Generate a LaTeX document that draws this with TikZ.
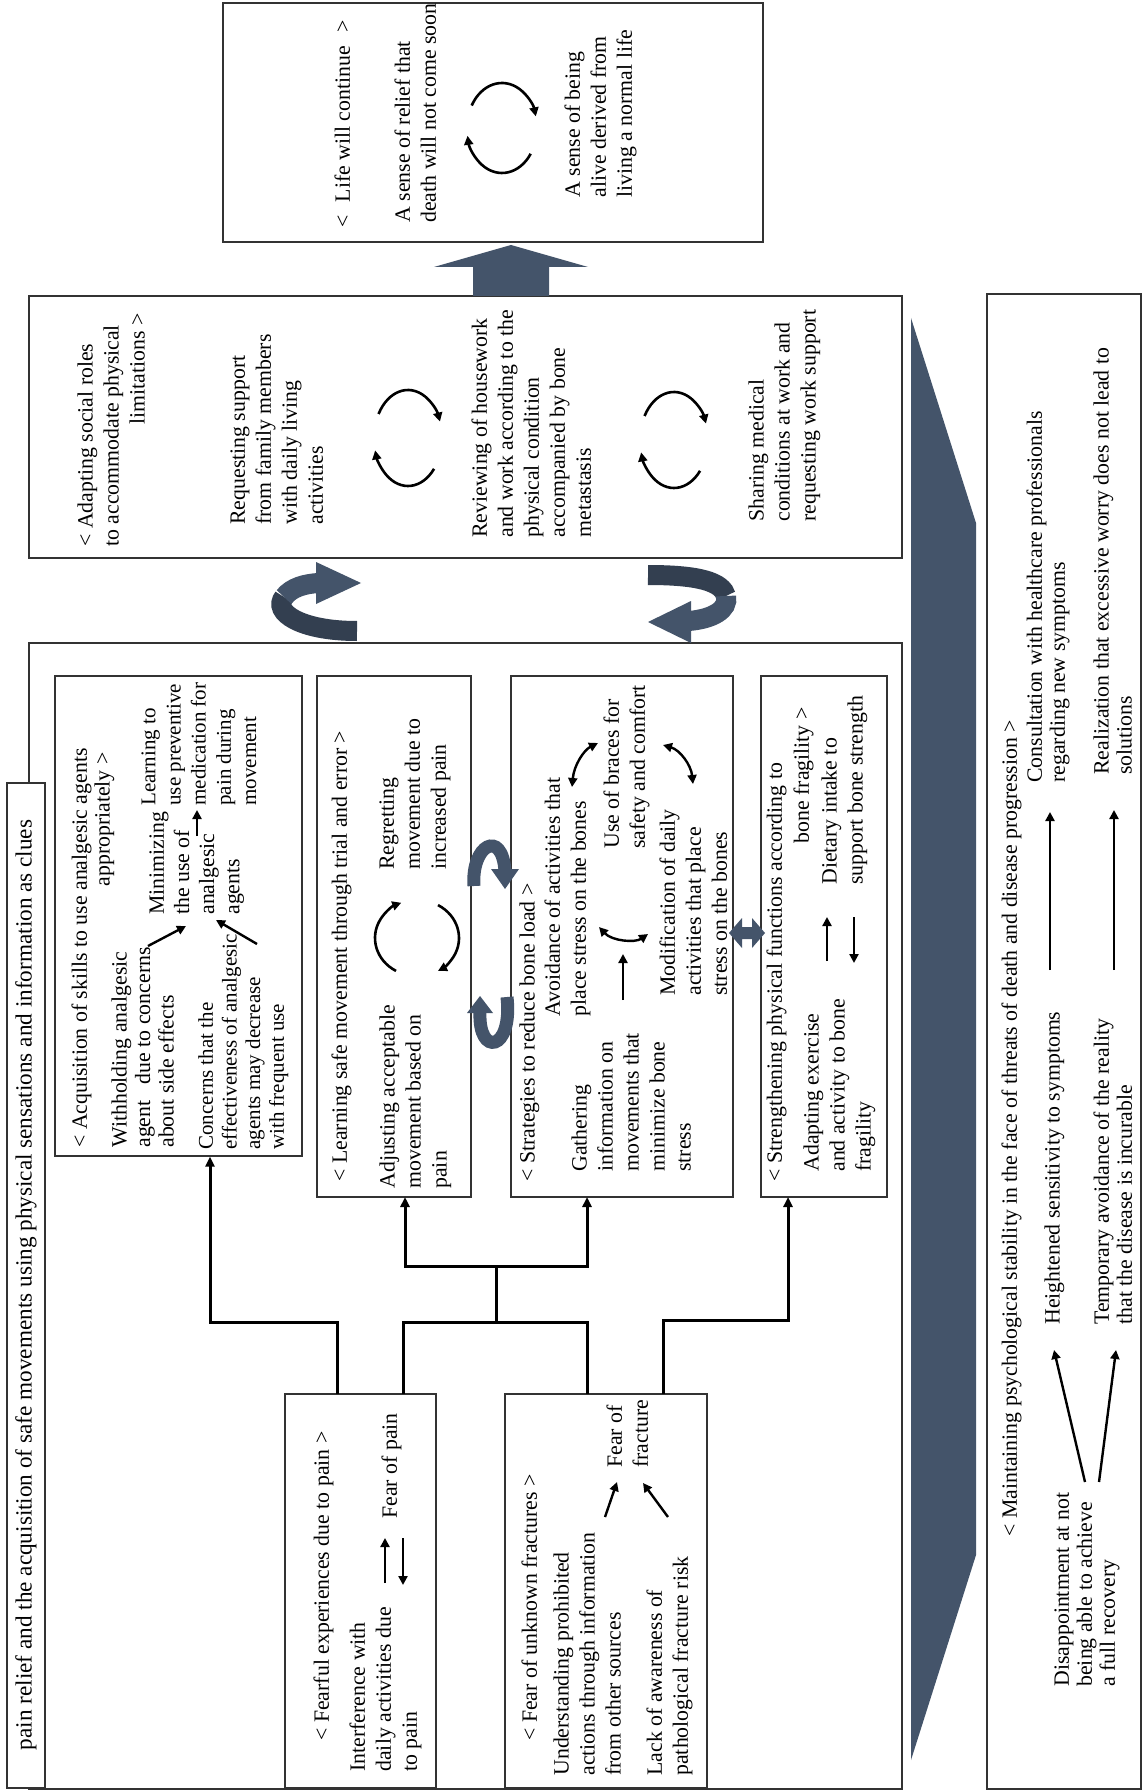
\documentclass[tikz,border=0pt]{standalone}
\usepackage{fontspec}
\setmainfont{Liberation Serif}
\usetikzlibrary{arrows.meta,fit}
\definecolor{slate}{HTML}{44546A}
\definecolor{slated}{HTML}{333F50}
\newcommand\fn{\fontsize{10.9}{13}\selectfont}
\newcommand\fsm{\fontsize{10.9}{11.8}\selectfont}
\newcommand\fps{\fontsize{10.9}{11.5}\selectfont}
\begin{document}
\begin{tikzpicture}[x=0.5pt,y=-0.5pt,
 box/.style={draw=black!80, line width=0.6pt, inner sep=0pt},
 tx/.style={rotate=90, anchor=north west, inner sep=0pt, align=left, font=\fn},
 txe/.style={rotate=90, anchor=north east, inner sep=0pt, align=left, font=\fn},
 conn/.style={line width=1.5pt, -{Triangle[length=5pt,width=4.5pt]}},
 cline/.style={line width=1.5pt},
 sarr/.style={line width=1.2pt, -{Triangle[length=4.5pt,width=4.5pt]}},
 darr/.style={line width=1.2pt, {Triangle[length=4.5pt,width=4.5pt]}-{Triangle[length=4.5pt,width=4.5pt]}},
 cyc/.style={line width=1.3pt, -{Triangle[length=4.5pt,width=4.5pt]}},
]
\useasboundingbox (0,0) rectangle (1143,1791);
\fill[white] (0,0) rectangle (1143,1791);

% ---------------- boxes
\node[box, fit={(223,3)(763,242)}] (topb) {};
\node[box, fit={(29,296)(902,558)}] (midb) {};
\node[box, fit={(987,294)(1141,1789)}] (psyb) {};
\node[box, fit={(29,643)(902,1789)}] (leftb) {};
\node[box, fill=white, fit={(7,783)(45,1788)}] (ttlb) {};
\node[box, fit={(55,676)(302,1156)}] (acq) {};
\node[box, fit={(317,676)(471,1197)}] (learn) {};
\node[box, fit={(511,676)(733,1197)}] (strat) {};
\node[box, fit={(761,676)(887,1197)}] (stren) {};
\node[box, fit={(285,1394)(436,1788)}] (fear) {};
\node[box, fit={(505,1394)(707,1788)}] (frac) {};

% ---------------- blue shapes
\fill[slate] (911,318) -- (976,523) -- (976,1555) -- (911,1760) -- cycle;
\fill[slate] (473,296) -- (473,267) -- (434,267) -- (511,245) -- (588,267) -- (549,267) -- (549,296) -- cycle;
% ribbon left (middle -> left box)
\draw[slated, line width=10pt] (357,631) .. controls (300,631) and (272,612) .. (284,597);
\draw[slate, line width=10pt] (284,597) .. controls (292,587) and (305,584) .. (318,583);
\fill[slate] (316,562) -- (361,583) -- (316,604) -- cycle;
% ribbon right (middle -> left box)
\draw[slated, line width=10pt] (648,575) .. controls (700,575) and (722,582) .. (726,596);
\draw[slate, line width=10pt] (726,596) .. controls (729,610) and (712,619) .. (689,621);
\fill[slate] (691,601) -- (648,622) -- (691,643) -- cycle;
% ribbons between learning and strategies
\draw[slate, line width=6.5pt] (474,886) .. controls (471,845) and (502,828) .. (505,871);
\fill[slate] (491,869) -- (519,869) -- (505,889) -- cycle;
\draw[slate, line width=6.5pt] (507,997) .. controls (513,1052) and (478,1057) .. (480,1012);
\fill[slate] (467,1013) -- (493,1013) -- (480,996) -- cycle;
% double arrow strategies/strengthening
\fill[slate] (729,933) -- (742,918) -- (742,927) -- (752,927) -- (752,918) -- (765,933) -- (752,948) -- (752,939) -- (742,939) -- (742,948) -- cycle;

% ---------------- top box
\node[tx] (t1) at (334,228) {<\hspace{0.6em}Life will continue\hspace{0.6em}>};
\node[tx] (t2) at (394,223) {A sense of relief that\\death will not come soon};
\node[tx] (t3) at (564,198) {A sense of being\\alive derived from\\living a normal life};
\coordinate (c0) at (502,128);
\draw[cyc] ([shift={(-150:35 and 45)}]c0) arc[start angle=-150, end angle=-15, x radius=35, y radius=45];
\draw[cyc] ([shift={(35:35 and 45)}]c0) arc[start angle=35, end angle=170, x radius=35, y radius=45];

% ---------------- middle box
\node[tx] (m1) at (77,547) {< Adapting social roles\\to accommodate physical};
\node[txe] (m1b) at (129,313) {limitations >};
\node[tx] (m2) at (230,525) {Requesting support\\from family members\\with daily living\\activities};
\node[tx] (m3) at (471,538) {Reviewing of housework\\and work according to the\\physical condition\\accompanied by bone\\metastasis};
\node[tx] (m4) at (748,522) {Sharing medical\\conditions at work and\\requesting work support};
\coordinate (c1) at (408,438);
\draw[cyc] ([shift={(-150:34 and 48)}]c1) arc[start angle=-150, end angle=-20, x radius=34, y radius=48];
\draw[cyc] ([shift={(40:34 and 48)}]c1) arc[start angle=40, end angle=165, x radius=34, y radius=48];
\coordinate (c2) at (674,440);
\draw[cyc] ([shift={(-150:34 and 48)}]c2) arc[start angle=-150, end angle=-20, x radius=34, y radius=48];
\draw[cyc] ([shift={(40:34 and 48)}]c2) arc[start angle=40, end angle=165, x radius=34, y radius=48];

% ---------------- title
\node[rotate=90, inner sep=0pt, font=\fontsize{11.6}{14}\selectfont] (ttl) at (26,1285) {pain relief and the acquisition of safe movements using physical sensations and information as clues};

% ---------------- acquisition
\node[tx, font=\fsm] (a1) at (71,1148) {< Acquisition of skills to use analgesic agents};
\node[txe] (a1b) at (94,752) {appropriately >};
\node[tx, font=\fsm] (a2) at (111,1148) {Withholding analgesic\\agent\ \ \ due to concerns\\about side effects};
\node[tx, font=\fontsize{10.5}{11.8}\selectfont] (a3) at (198,1150) {Concerns that the\\effectiveness of analgesic\\agents may decrease\\with frequent use};
\node[tx, font=\fontsize{10.9}{12.6}\selectfont] (a4) at (149,915) {Minimizing\\the use of\\analgesic\\agents};
\node[tx, font=\fontsize{10.5}{12.6}\selectfont] (a5) at (141,806) {Learning to\\use preventive\\medication for\\pain during\\movement};
\draw[sarr] (148,946) -- (186,926);
\draw[sarr] (257,944) -- (216,920);
\draw[sarr] (197,836) -- (197,810);

% ---------------- learning
\node[tx] (l1) at (331,1182) {< Learning safe movement through trial and error >};
\node[tx] (l2) at (379,1189) {Adjusting acceptable\\movement based on\\pain};
\node[tx] (l3) at (379,870) {Regretting\\movement due to\\increased pain};
\coordinate (c3) at (417,938);
\draw[cyc] ([shift={(-240:42 and 38)}]c3) arc[start angle=-240, end angle=-112, x radius=42, y radius=38];
\draw[cyc] ([shift={(-60:42 and 38)}]c3) arc[start angle=-60, end angle=60, x radius=42, y radius=38];

% ---------------- strategies
\node[tx] (s1) at (519,1182) {< Strategies to reduce bone load >};
\node[tx] (s2) at (544,1017) {Avoidance of activities that\\place stress on the bones};
\node[tx] (s3) at (571,1172) {Gathering\\information on\\movements that\\minimize bone\\stress};
\node[tx] (s4) at (603,849) {Use of braces for\\safety and comfort};
\node[tx] (s5) at (659,996) {Modification of daily\\activities that place\\stress on the bones};
\draw[sarr] (623,1000) -- (623,954);
\draw[darr] (599,927) .. controls (612,941) and (635,943) .. (648,934);
\draw[darr] (572,787) .. controls (574,765) and (584,750) .. (598,743);
\draw[darr] (663,745) .. controls (680,750) and (691,765) .. (693,784);

% ---------------- strengthening
\node[tx] (g1) at (766,1182) {< Strengthening physical functions according to};
\node[txe] (g1b) at (793,707) {bone fragility >};
\node[tx] (g2) at (803,1172) {Adapting exercise\\and activity to bone\\fragility};
\node[tx] (g3) at (821,885) {Dietary intake to\\support bone strength};
\draw[sarr] (827,961) -- (827,917);
\draw[sarr] (854,917) -- (854,963);

% ---------------- fearful
\node[tx] (f1) at (313,1741) {< Fearful experiences due to pain >};
\node[tx] (f2) at (349,1772) {Interference with\\daily activities due\\to pain};
\node[tx] (f3) at (381,1519) {Fear of pain};
\draw[sarr] (385,1583) -- (385,1538);
\draw[sarr] (403,1538) -- (403,1585);

% ---------------- fractures
\node[tx] (r1) at (521,1741) {< Fear of unknown fractures >};
\node[tx] (r2) at (553,1776) {Understanding prohibited\\actions through information\\from other sources};
\node[tx] (r3) at (646,1776) {Lack of awareness of\\pathological fracture risk};
\node[tx] (r4) at (606,1468) {Fear of\\fracture};
\draw[sarr] (605,1517) -- (617,1482);
\draw[sarr] (668,1517) -- (643,1483);

% ---------------- psychological stability
\node[tx] (h1) at (1001,1537) {< Maintaining psychological stability in the face of threats of death and disease progression >};
\node[tx, font=\fps] (d1) at (1054,1687) {Disappointment at not\\being able to achieve\\a full recovery};
\node[tx] (he) at (1044,1325) {Heightened sensitivity to symptoms};
\node[tx, font=\fps] (te) at (1093,1325) {Temporary avoidance of the reality\\that the disease is incurable};
\node[tx, font=\fps] (co) at (1026,783) {Consultation with healthcare professionals\\regarding new symptoms};
\node[tx, font=\fps] (re) at (1093,775) {Realization that excessive worry does not lead to\\solutions};
\draw[sarr] (1085,1482) -- (1054,1350);
\draw[sarr] (1099,1482) -- (1116,1350);
\draw[sarr] (1050,970) -- (1050,812);
\draw[sarr] (1114,970) -- (1114,810);

% ---------------- connectors
\coordinate (fa) at (337,1394);
\coordinate (j1) at (210,1322);
\coordinate (fb) at (403,1394);
\coordinate (rb) at (587,1394);
\coordinate (rbar) at (587,1322);
\coordinate (jm1) at (496,1322);
\coordinate (jm2) at (496,1266);
\coordinate (ls) at (405,1197);
\coordinate (ss) at (587,1197);
\coordinate (rc) at (663,1394);
\coordinate (j3) at (788,1320);
\coordinate (gs) at (788,1197);
\draw[conn] (fa) |- (j1) -- (j1 |- acq.south);
\draw[cline] (fb) |- (rbar) -- (rb);
\draw[cline] (jm1) -- (jm2);
\draw[conn] (jm2) -| (ls);
\draw[conn] (jm2) -| (ss);
\draw[conn] (rc) |- (j3) -- (gs);
\end{tikzpicture}
\end{document}
